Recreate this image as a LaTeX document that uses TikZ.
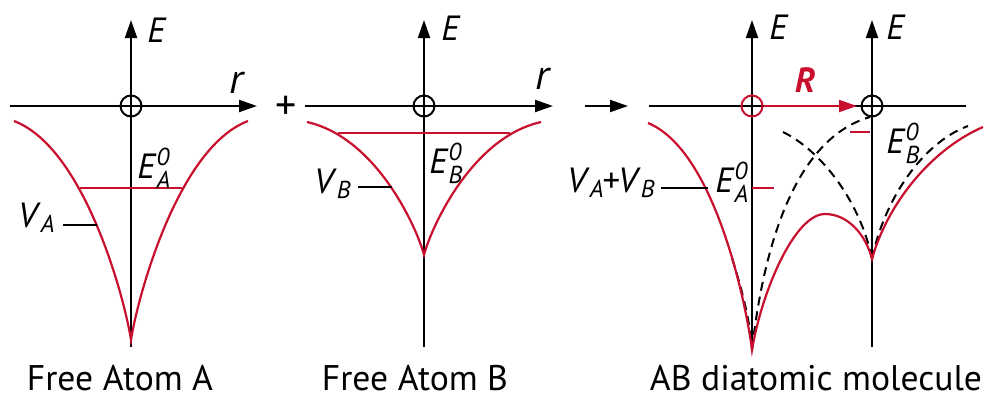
\documentclass[tikz,border=0pt]{standalone}
\usepackage{amsmath}
\usepackage{fontspec}
\setmainfont{PT Sans}
\usepackage{tikz}
\usetikzlibrary{arrows.meta}
\definecolor{potred}{RGB}{200, 16, 46}

\begin{document}
\begin{tikzpicture}[
    x=0.5pt, y=-0.5pt,
    font=\fontsize{17.5}{20}\selectfont,
    axis/.style={line width=1pt, -{Triangle[length=9pt, width=6pt]}},
    bare/.style={line width=1pt},
    orig/.style={circle, draw=#1, line width=1pt, minimum size=10.5pt, inner sep=0pt},
    orig/.default=black,
    pot/.style={potred, line width=1.1pt},
    part/.style={black, dash pattern=on 4.5pt off 3pt, line width=1pt},
    lvl/.style={potred, line width=1pt},
    lead/.style={line width=0.6pt},
    lbl/.style={inner sep=0pt, anchor=base west},
    lblr/.style={inner sep=0pt, anchor=base east},
    caption/.style={font=\fontsize{17.8}{20}\selectfont, inner sep=0pt, anchor=base}
]
    \useasboundingbox (0,0) rectangle (984,398);

    % ==========================================
    % COORDINATES
    % ==========================================
    % Free atom A
    \coordinate (a_W) at (10,106);
    \coordinate (a_E) at (257,106);
    \coordinate (a_N) at (131,20);
    \coordinate (a_S) at (131,347);
    \coordinate (a_cusp) at (131,340);
    \coordinate (a_lvl_l) at (80,188);
    \coordinate (a_lvl_r) at (182,188);
    \coordinate (a_lead_l) at (63,225);
    \coordinate (a_lead_r) at (97,225);

    % Free atom B
    \coordinate (b_W) at (305,106);
    \coordinate (b_E) at (553,106);
    \coordinate (b_N) at (424,20);
    \coordinate (b_S) at (424,347);
    \coordinate (b_cusp) at (424,255);
    \coordinate (b_lvl_l) at (338,133);
    \coordinate (b_lvl_r) at (510,133);
    \coordinate (b_lead_l) at (358,187);
    \coordinate (b_lead_r) at (392,187);

    % Molecule AB
    \coordinate (go_from) at (585,106);
    \coordinate (go_to) at (628,106);
    \coordinate (ab_W) at (649,106);
    \coordinate (ab_E) at (966,106);
    \coordinate (ab_NA) at (752,20);
    \coordinate (ab_SA) at (752,352);
    \coordinate (ab_NB) at (872,20);
    \coordinate (ab_SB) at (872,347);
    \coordinate (ab_Rtip) at (857,106);
    \coordinate (ab_cuspA) at (752,350);
    \coordinate (ab_cuspB) at (872,259);
    \coordinate (ab_top) at (825,214);
    \coordinate (ab_lvlA_l) at (752,188);
    \coordinate (ab_lvlA_r) at (774,188);
    \coordinate (ab_lvlB_l) at (850,132);
    \coordinate (ab_lvlB_r) at (870,132);
    \coordinate (ab_lead_l) at (661,188);
    \coordinate (ab_lead_r) at (708,188);


    % ==========================================
    % AXES
    % ==========================================
    \draw[axis] (a_W) -- (a_E);
    \draw[axis] (a_S) -- (a_N);
    \draw[axis] (b_W) -- (b_E);
    \draw[axis] (b_S) -- (b_N);

    \draw[axis] (go_from) -- (go_to);
    \draw[bare] (ab_W) -- (ab_E);
    \draw[axis] (ab_SA) -- (ab_NA);
    \draw[axis] (ab_SB) -- (ab_NB);


    % ==========================================
    % POTENTIALS OF THE FREE ATOMS (Red)
    % ==========================================
    \draw[pot] (14,121) .. controls (85,148) and (125,300) .. (a_cusp)
        .. controls (137,300) and (177,148) .. (248,121);
    \draw[pot] (307,122) .. controls (378,138) and (418,231) .. (b_cusp)
        .. controls (430,231) and (470,138) .. (541,122);

    \draw[lvl] (a_lvl_l) -- (a_lvl_r);
    \draw[lvl] (b_lvl_l) -- (b_lvl_r);


    % ==========================================
    % MOLECULE: V_A, V_B (Dashed) AND SUM (Red)
    % ==========================================
    \draw[part] (732,258) .. controls (742,290) and (750,320) .. (ab_cuspA);
    \draw[part] (ab_cuspA) .. controls (762,260) and (790,140) .. (870,117);
    \draw[part] (783,132) .. controls (820,150) and (860,200) .. (ab_cuspB);
    \draw[part] (ab_cuspB) .. controls (884,200) and (922,143) .. (968,126);

    \draw[pot] (648,123) .. controls (716,151) and (747,309) .. (ab_cuspA)
        .. controls (762,290) and (795,214) .. (ab_top)
        .. controls (848,214) and (866,235) .. (ab_cuspB)
        .. controls (887,205) and (930,150) .. (983,127);

    \draw[lvl] (ab_lvlA_l) -- (ab_lvlA_r);
    \draw[lvl] (ab_lvlB_l) -- (ab_lvlB_r);


    % ==========================================
    % NUCLEI
    % ==========================================
    \node[orig] (oA) at (131,106) {};
    \node[orig] (oB) at (424,106) {};
    \node[orig=potred] (abA) at (752,106) {};
    \node[orig] (abB) at (872,106) {};

    \draw[potred, line width=1pt, -{Triangle[length=9pt, width=6pt]}] (abA.east) -- (ab_Rtip);
    \node[text=potred, font=\fontsize{17.5}{20}\selectfont\bfseries\itshape] (Rlab) at (805,80) {R};


    % ==========================================
    % LEADERS AND LABELS
    % ==========================================
    \draw[lead] (a_lead_l) -- (a_lead_r);
    \draw[lead] (b_lead_l) -- (b_lead_r);
    \draw[lead] (ab_lead_l) -- (ab_lead_r);

    \node (EaxA) at (157,30) {\textit{E}};
    \node (EaxB) at (451,28) {\textit{E}};
    \node (EaxAB1) at (779,27) {\textit{E}};
    \node (EaxAB2) at (896,27) {\textit{E}};
    \node[font=\fontsize{21}{22}\selectfont] (raxA) at (238,83) {\textit{r}};
    \node[font=\fontsize{21}{22}\selectfont] (raxB) at (544,79) {\textit{r}};
    \node[font=\fontsize{21}{22}\selectfont] (plus) at (286,108) {+};

    \node[lblr] (VA) at (56,227) {\textit{V}$_{\textit{A}}$};
    \node[lblr] (VB) at (352,193) {\textit{V}$_{\textit{B}}$};
    \node[lbl] (EA) at (137,178) {\textit{E}$_{\textit{A}}^{\textit{0}}$};
    \node[lbl] (EB) at (429,173) {\textit{E}$_{\textit{B}}^{\textit{0}}$};
    \node[lblr] (VAB) at (656,192) {\textit{V}$_{\textit{A}}$\kern-1pt+\kern-1pt\textit{V}$_{\textit{B}}$};
    \node[lbl] (EAab) at (715,192) {\textit{E}$_{\textit{A}}^{\textit{0}}$};
    \node[lbl] (EBab) at (886,153) {\textit{E}$_{\textit{B}}^{\textit{0}}$};

    \node[caption] (capA) at (120,390) {Free Atom A};
    \node[caption] (capB) at (415,390) {Free Atom B};
    \node[caption] (capAB) at (816,390) {AB diatomic molecule};

\end{tikzpicture}
\end{document}
